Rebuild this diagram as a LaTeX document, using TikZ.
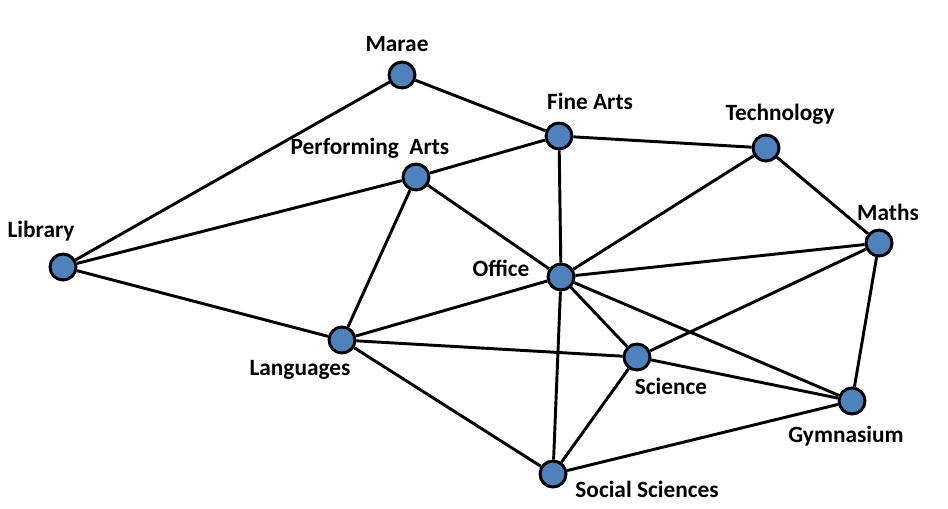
\documentclass[tikz,border=0pt]{standalone}
\usepackage{fontspec}
\setmainfont{Carlito}
\usepackage{tikz}
\definecolor{stopblue}{HTML}{4F81BD}

\begin{document}
\begin{tikzpicture}[x=0.75pt, y=-0.75pt, font=\bfseries\fontsize{17.5}{19}\selectfont,
  stop/.style={circle, draw=black, line width=2.2pt, fill=stopblue, minimum size=19.5pt, inner sep=0pt},
  link/.style={line width=2.2pt},
  tag/.style={inner sep=0pt, anchor=center}]
  \useasboundingbox (0,0) rectangle (948,508);
  % Rooms
  \node[stop] (marae) at (402,75) {};
  \node[stop] (finearts) at (559,136) {};
  \node[stop] (tech) at (766,148) {};
  \node[stop] (perf) at (416,177) {};
  \node[stop] (library) at (63,267) {};
  \node[stop] (maths) at (879,243) {};
  \node[stop] (office) at (561,277) {};
  \node[stop] (lang) at (342,340) {};
  \node[stop] (science) at (637,357) {};
  \node[stop] (gym) at (852,401) {};
  \node[stop] (social) at (553,474) {};
  % Names
  \node[tag] (maraeT) at (397,44) {Marae};
  \node[tag] (fineartsT) at (590,101) {Fine Arts};
  \node[tag] (techT) at (780,114) {Technology};
  \node[tag] (perfT) at (370,148) {Performing\ \ Arts};
  \node[tag] (libraryT) at (41,231) {Library};
  \node[tag] (mathsT) at (888,212) {Maths};
  \node[tag] (officeT) at (501,268) {Office};
  \node[tag] (langT) at (300,370) {Languages};
  \node[tag] (scienceT) at (671,386) {Science};
  \node[tag] (gymT) at (846,436) {Gymnasium};
  \node[tag] (socialT) at (647,489) {Social Sciences};
  % Paths
  \foreach \a/\b in {library/marae, library/perf, library/lang, marae/finearts,
      finearts/perf, finearts/tech, finearts/office, perf/office, perf/lang,
      tech/office, tech/maths, office/maths, office/lang, office/science,
      office/gym, office/social, maths/science, maths/gym, lang/science,
      lang/social, science/gym, science/social, social/gym}
    \draw[link] (\a) -- (\b);
\end{tikzpicture}
\end{document}
